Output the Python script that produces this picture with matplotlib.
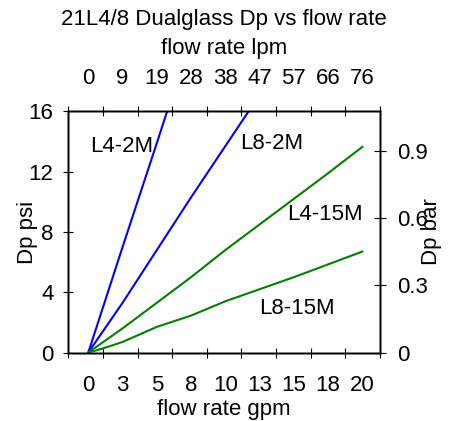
import matplotlib
matplotlib.use('Agg')
import matplotlib.pyplot as plt
import numpy as np

plt.rcParams['font.family'] = ['Liberation Sans', 'DejaVu Sans']
plt.rcParams['font.size'] = 16

# flow in gpm, pressure drop in psi
gpm_l4_2m = [0, 2.5, 5, 6]
psi_l4_2m = [0, 7.0, 13.9, 16.7]
gpm_l8_2m = [0, 2.5, 5, 7.5, 10, 12.5]
psi_l8_2m = [0, 3.3, 6.8, 10.3, 13.7, 17.1]
gpm_l4_15m = [0, 2.5, 5, 7.5, 10, 12.5, 15, 17.5, 20]
psi_l4_15m = [0, 1.6, 3.3, 5.0, 6.8, 8.5, 10.2, 11.9, 13.65]
gpm_l8_15m = [0, 1, 2.5, 5, 7.5, 10, 12.5, 15, 17.5, 20]
psi_l8_15m = [0, 0.25, 0.7, 1.7, 2.45, 3.4, 4.2, 5.0, 5.85, 6.7]

gpm_ticks = [0, 2.5, 5, 7.5, 10, 12.5, 15, 17.5, 20]
gpm_labels = ['0', '3', '5', '8', '10', '13', '15', '18', '20']
lpm_labels = ['0', '9', '19', '28', '38', '47', '57', '66', '76']
psi_ticks = [0, 4, 8, 12, 16]
bar_ticks = [0, 0.3, 0.6, 0.9]
bar_labels = ['0', '0.3', '0.6', '0.9']

xmin, xmax = -1.46, 21.29
ymax_psi = 16
ymax_bar = 16 / 14.85

fig = plt.figure(figsize=(4.53, 4.21), dpi=100)
ax = fig.add_axes([0.1508, 0.1627, 0.6881, 0.5725])

ax.plot(gpm_l4_2m, psi_l4_2m, color='#0000ff', lw=1.5)
ax.plot(gpm_l8_2m, psi_l8_2m, color='#0000ff', lw=1.5)
ax.plot(gpm_l4_15m, psi_l4_15m, color='#008000', lw=1.5)
ax.plot(gpm_l8_15m, psi_l8_15m, color='#008000', lw=1.5)

ax.text(0.1, 13.7, 'L4-2M', va='center', ha='left')
ax.text(11.07, 13.9, 'L8-2M', va='center', ha='left')
ax.text(14.5, 9.13, 'L4-15M', va='center', ha='left')
ax.text(12.46, 2.95, 'L8-15M', va='center', ha='left')

ax.set_xlim(xmin, xmax)
ax.set_ylim(0, ymax_psi)

tick_pos = np.linspace(xmin, xmax, 10)
ax.set_xticks(gpm_ticks, gpm_labels)
ax.set_xticks(tick_pos, minor=True)
ax.tick_params(axis='x', which='major', length=0, pad=16)
ax.tick_params(axis='x', which='minor', direction='inout', length=7.5, width=0.8)
ax.set_yticks(psi_ticks)
ax.tick_params(axis='y', direction='inout', length=7.5, width=0.8, pad=7)
ax.set_xlabel('flow rate gpm', va='center')
ax.xaxis.set_label_coords(0.5, -0.235)
ax.set_ylabel('Dp psi', va='center', ha='center')
ax.yaxis.set_label_coords(-0.1325, 0.5)

axt = ax.twiny()
axt.set_xlim(xmin, xmax)
axt.set_xticks(gpm_ticks, lpm_labels)
axt.set_xticks(tick_pos, minor=True)
axt.tick_params(axis='x', which='major', length=0, pad=16)
axt.tick_params(axis='x', which='minor', direction='inout', length=7.5, width=0.8)
axt.set_xlabel('flow rate lpm', va='center')
axt.xaxis.set_label_coords(0.5, 1.262)

axr = ax.twinx()
axr.set_ylim(0, ymax_bar)
axr.set_yticks(bar_ticks, bar_labels)
axr.tick_params(axis='y', direction='inout', length=8, width=0.8, pad=8)
axr.set_ylabel('Dp bar', va='center', ha='center', rotation=90)
axr.yaxis.set_label_coords(1.165, 0.5)

for a in (ax, axt, axr):
    for s in a.spines.values():
        s.set_linewidth(1.0)

fig.text(0.4945, 1 - 20 / 421, '21L4/8 Dualglass Dp vs flow rate', ha='center', va='center')

fig.savefig('out.png', dpi=100)
